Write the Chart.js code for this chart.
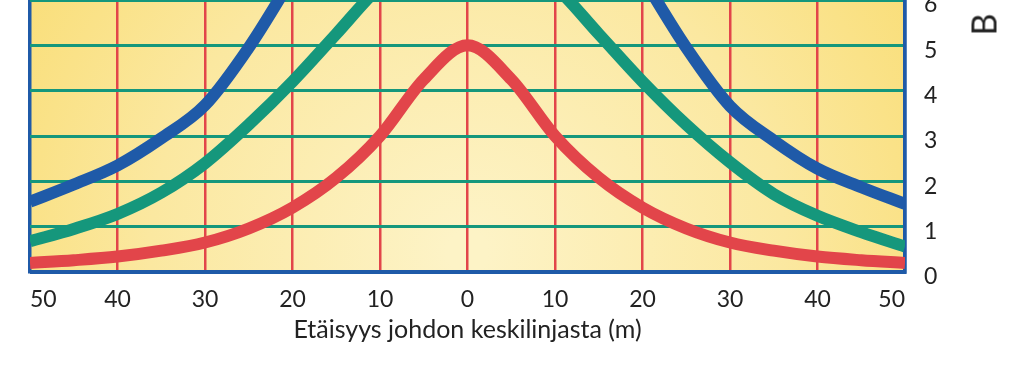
<!DOCTYPE html>
<html>
<head>
<meta charset="utf-8">
<script src="https://cdn.jsdelivr.net/npm/chart.js@4"></script>
<style>
  body { margin: 0; background: #fff; }
  #wrap { position: relative; width: 1023px; height: 372px; }
  #axisB {
    position: absolute; left: 972px; top: 4px;
    font: 34px Lato, sans-serif; color: #222;
    transform: rotate(-90deg); transform-origin: center;
  }
</style>
</head>
<body>
<div id="wrap">
  <canvas id="fieldChart"></canvas>
  <div id="axisB">B</div>
</div>
<script>
// etäisyys johdon keskilinjasta (m), negatiivinen = vasen puoli
const distances = [-50, -45, -40, -35, -30, -25, -20, -15, -10, -5, 0, 5, 10, 15, 20, 25, 30, 35, 40, 45, 50];
const blueSeries = [1.55, 1.93, 2.35, 2.95, 3.68, 4.95, 6.5, 8.1, 9.4, 10.2, 10.5, 10.2, 9.4, 8.1, 6.5, 4.95, 3.66, 2.9, 2.28, 1.87, 1.5];
const tealSeries = [0.68, 0.95, 1.28, 1.75, 2.4, 3.25, 4.2, 5.25, 6.3, 7.0, 7.3, 7.0, 6.3, 5.25, 4.2, 3.25, 2.42, 1.72, 1.24, 0.88, 0.56];
const redSeries = [0.2, 0.26, 0.34, 0.47, 0.65, 0.96, 1.42, 2.08, 3.0, 4.25, 5.0, 4.25, 3.0, 2.08, 1.42, 0.96, 0.65, 0.47, 0.34, 0.26, 0.2];
const xTicks = [-50, -40, -30, -20, -10, 0, 10, 20, 30, 40, 50];
const yTicks = [0, 1, 2, 3, 4, 5, 6];

const BLUE = "#1f5aa8";
const TEAL = "#15977c";
const RED = "#e2454a";

function toPoints(values) {
    return distances.map((d, i) => ({ x: d, y: values[i] }));
}

// keltainen taustaliukuväri piirtoalueelle
const yellowBackground = {
    id: "yellowBackground",
    beforeDraw(chart) {
        const { ctx, chartArea: a } = chart;
        const cx = (a.left + a.right) / 2;
        const g = ctx.createRadialGradient(cx, a.bottom - 20, 20, cx, a.bottom - 20, 560);
        g.addColorStop(0, "#fdf3c6");
        g.addColorStop(0.55, "#fbe8a0");
        g.addColorStop(1, "#f9dc70");
        ctx.save();
        ctx.fillStyle = g;
        ctx.fillRect(a.left, a.top, a.right - a.left, a.bottom - a.top);
        ctx.restore();
    }
};

const lineStyle = {
    borderWidth: 12,
    pointRadius: 0,
    fill: false,
    cubicInterpolationMode: "monotone"
};

const ctx = document.getElementById("fieldChart").getContext("2d");
window.myChart = new Chart(ctx, {
    type: "line",
    data: {
        datasets: [
            { label: "sininen", data: toPoints(blueSeries), borderColor: BLUE, ...lineStyle },
            { label: "vihreä", data: toPoints(tealSeries), borderColor: TEAL, ...lineStyle },
            { label: "punainen", data: toPoints(redSeries), borderColor: RED, ...lineStyle }
        ]
    },
    options: {
        responsive: true,
        maintainAspectRatio: false,
        animation: false,
        layout: { padding: { left: 30, top: 0, right: 0, bottom: 0 } },
        plugins: { legend: { display: false }, tooltip: { enabled: false } },
        scales: {
            x: {
                type: "linear",
                min: -50,
                max: 50,
                afterBuildTicks: scale => { scale.ticks = xTicks.map(v => ({ value: v })); },
                afterFit: scale => {
                    scale.height = 100;
                    scale.paddingLeft = 0;
                    scale.paddingRight = 0;
                },
                grid: {
                    drawTicks: false,
                    color: c => (Math.abs(c.tick.value) === 50 ? BLUE : RED),
                    lineWidth: c => (Math.abs(c.tick.value) === 50 ? 3.5 : 2.5)
                },
                border: { color: BLUE, width: 3.5 },
                ticks: {
                    align: "inner",
                    padding: 14,
                    color: "#222",
                    font: { family: "Lato", size: 23 },
                    callback: v => String(Math.abs(v))
                },
                title: {
                    display: true,
                    text: "Etäisyys johdon keskilinjasta (m)",
                    color: "#222",
                    font: { family: "Lato", size: 25 },
                    padding: { top: 0, bottom: 27 }
                }
            },
            y: {
                position: "right",
                min: 0,
                max: 6,
                afterBuildTicks: scale => { scale.ticks = yTicks.map(v => ({ value: v })); },
                afterFit: scale => {
                    scale.width = 118;
                    scale.paddingTop = 0;
                    scale.paddingBottom = 0;
                },
                grid: {
                    drawTicks: false,
                    color: c => (c.tick.value === 0 ? BLUE : TEAL),
                    lineWidth: 3
                },
                border: { color: BLUE, width: 3.5 },
                ticks: {
                    crossAlign: "center",
                    padding: 19,
                    labelOffset: 5,
                    color: "#222",
                    font: { family: "Lato", size: 23 }
                }
            }
        }
    },
    plugins: [yellowBackground]
});
</script>
</body>
</html>
